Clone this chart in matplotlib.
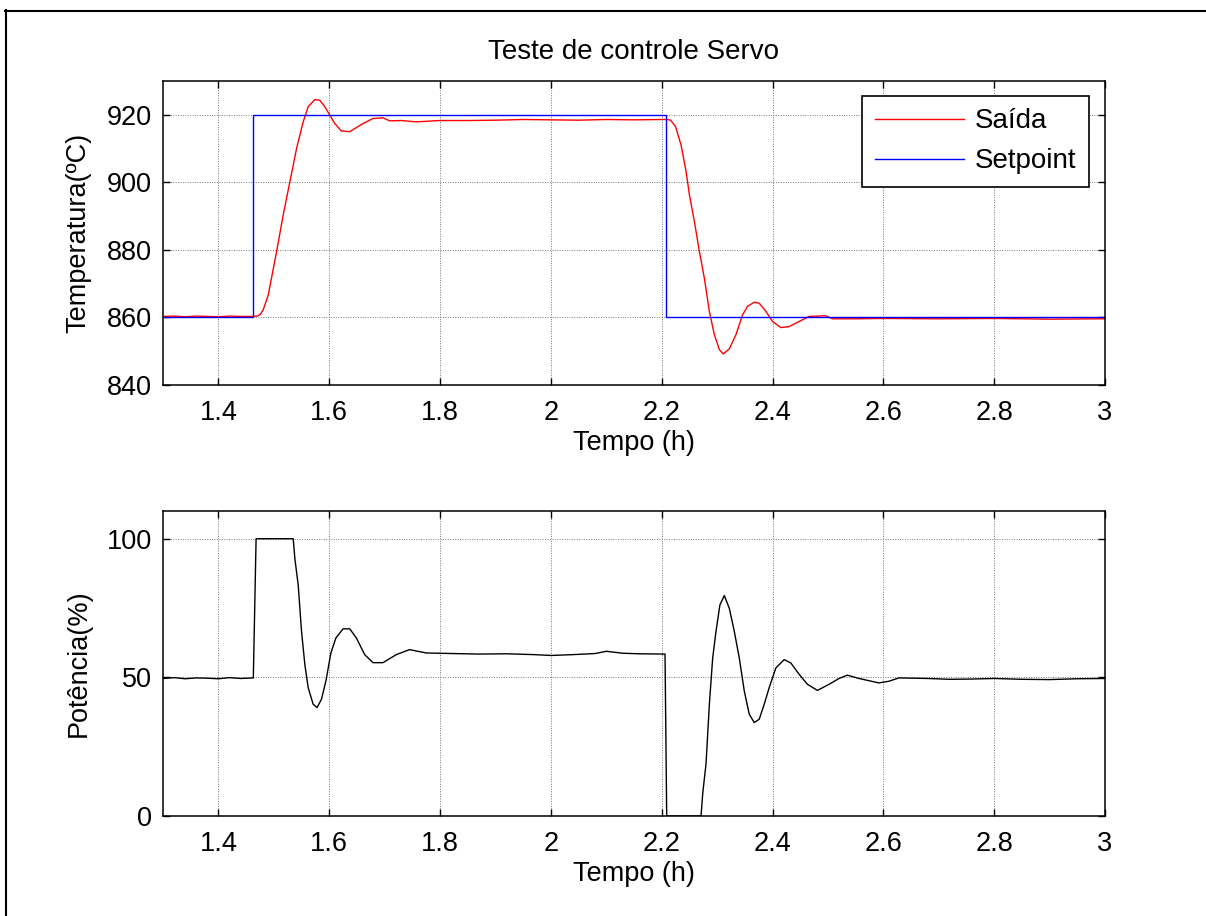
import numpy as np
import matplotlib
matplotlib.use('Agg')
import matplotlib.pyplot as plt
from matplotlib.lines import Line2D

plt.rcParams['font.family'] = ['Liberation Sans', 'DejaVu Sans']

# temperatura medida (Saida)
t_saida = [1.300, 1.320, 1.340, 1.360, 1.380, 1.400, 1.420, 1.440, 1.460, 1.470,
           1.475, 1.481, 1.490, 1.505, 1.517, 1.529, 1.541, 1.553, 1.562, 1.574,
           1.583, 1.592, 1.601, 1.610, 1.622, 1.637, 1.649, 1.661, 1.679, 1.697,
           1.709, 1.730, 1.757, 1.800, 1.850, 1.900, 1.950, 2.000, 2.050, 2.100,
           2.150, 2.200, 2.210, 2.216, 2.225, 2.235, 2.244, 2.250, 2.259, 2.268,
           2.277, 2.286, 2.295, 2.304, 2.311, 2.322, 2.334, 2.346, 2.355, 2.367,
           2.376, 2.388, 2.400, 2.415, 2.430, 2.448, 2.466, 2.496, 2.508, 2.550,
           2.600, 2.700, 2.800, 2.900, 3.000]
T_saida = [860.3, 860.4, 860.2, 860.4, 860.3, 860.2, 860.4, 860.3, 860.3, 860.4,
           860.8, 862.3, 866.7, 879.5, 890.4, 900.2, 910.0, 917.9, 922.4, 924.5,
           924.3, 922.4, 919.9, 917.4, 915.2, 915.0, 916.2, 917.4, 918.9, 919.1,
           918.2, 918.3, 917.9, 918.3, 918.3, 918.4, 918.6, 918.5, 918.4, 918.6,
           918.5, 918.6, 918.6, 918.4, 916.5, 911.0, 903.2, 896.3, 888.4, 879.5,
           871.6, 861.8, 854.9, 850.5, 849.2, 850.7, 854.9, 860.8, 863.3, 864.5,
           864.2, 861.8, 858.8, 857.0, 857.3, 858.8, 860.3, 860.5, 859.6, 859.6,
           859.7, 859.6, 859.7, 859.5, 859.6]

# setpoint
t_sp = [1.300, 1.462, 1.462, 2.207, 2.207, 3.000]
T_sp = [860, 860, 920, 920, 860, 860]

# potencia aplicada
t_pot = [1.300, 1.320, 1.340, 1.360, 1.380, 1.400, 1.420, 1.440, 1.463, 1.468,
         1.535, 1.538, 1.544, 1.550, 1.556, 1.562, 1.571, 1.578, 1.586, 1.594,
         1.603, 1.612, 1.625, 1.637, 1.649, 1.664, 1.679, 1.697, 1.721, 1.745,
         1.775, 1.820, 1.870, 1.920, 1.970, 2.000, 2.040, 2.080, 2.100, 2.130,
         2.160, 2.206, 2.209, 2.271, 2.274, 2.280, 2.286, 2.292, 2.298, 2.305,
         2.313, 2.322, 2.331, 2.340, 2.349, 2.358, 2.367, 2.376, 2.385, 2.394,
         2.406, 2.421, 2.433, 2.448, 2.463, 2.481, 2.502, 2.520, 2.535, 2.556,
         2.592, 2.610, 2.628, 2.680, 2.720, 2.760, 2.800, 2.850, 2.900, 2.950,
         3.000]
P_pot = [49.6, 49.9, 49.5, 49.8, 49.7, 49.5, 49.9, 49.6, 49.8, 100.0,
         100.0, 92.8, 83.3, 66.6, 54.6, 46.3, 40.3, 39.1, 42.1, 48.7,
         58.8, 64.2, 67.5, 67.5, 64.2, 58.2, 55.3, 55.3, 58.2, 60.0,
         58.8, 58.6, 58.4, 58.5, 58.2, 57.9, 58.2, 58.6, 59.4, 58.7,
         58.5, 58.4, 0.0, 0.0, 8.1, 18.9, 40.3, 57.0, 66.6, 76.1,
         79.5, 74.9, 66.6, 57.0, 45.1, 36.7, 33.7, 34.9, 40.3, 46.3,
         53.4, 56.4, 55.2, 51.1, 47.5, 45.3, 47.5, 49.6, 50.8, 49.6,
         48.0, 48.6, 49.8, 49.6, 49.3, 49.4, 49.6, 49.3, 49.2, 49.5,
         49.6]

xticks = [1.4, 1.6, 1.8, 2.0, 2.2, 2.4, 2.6, 2.8, 3.0]
xticklabels = ['1.4', '1.6', '1.8', '2', '2.2', '2.4', '2.6', '2.8', '3']

fig = plt.figure(figsize=(12.06, 9.16), dpi=100)
W, H = 1206, 916

ax1 = fig.add_axes([163 / W, 1 - 385 / H, 942 / W, 304 / H])
ax2 = fig.add_axes([163 / W, 1 - 816 / H, 942 / W, 305 / H])


def estilo(ax):
    ax.set_xlim(1.3, 3.0)
    ax.set_xticks(xticks)
    ax.set_xticklabels(xticklabels)
    ax.tick_params(direction='in', length=5, width=1, top=True, right=True,
                   labelsize=19.5)
    ax.tick_params(axis='x', pad=11)
    ax.tick_params(axis='y', pad=8)
    ax.grid(True, color='#777777', linestyle=(0, (1, 1.5)), linewidth=0.7)
    for s in ax.spines.values():
        s.set_linewidth(1.1)
    ax.set_xlabel('Tempo (h)', fontsize=19.5, labelpad=3)


ax1.plot(t_saida, T_saida, color='red', lw=1.0, label='Saída')
ax1.plot(t_sp, T_sp, color='blue', lw=1.0, label='Setpoint')
estilo(ax1)
ax1.set_ylim(840, 930)
ax1.set_yticks([840, 860, 880, 900, 920])
ax1.set_ylabel('Temperatura(ºC)', fontsize=19.5, labelpad=11)
ax1.set_title('Teste de controle Servo', fontsize=20, pad=16)
leg = ax1.legend(loc='upper right', bbox_to_anchor=(0.983, 0.951), fontsize=20,
                 handlelength=3.2, handletextpad=0.4, borderpad=0.45,
                 labelspacing=0.5, borderaxespad=0, fancybox=False, framealpha=1)
leg.get_frame().set_edgecolor('black')
leg.get_frame().set_linewidth(1.2)

ax2.plot(t_pot, P_pot, color='black', lw=1.0)
estilo(ax2)
ax2.set_ylim(0, 110)
ax2.set_yticks([0, 50, 100])
ax2.set_ylabel('Potência(%)', fontsize=19.5, labelpad=11)

# moldura externa
fig.add_artist(Line2D([5.5 / W, 5.5 / W], [0, 1 - 10 / H], color='black', lw=1.5))
fig.add_artist(Line2D([5 / W, 1], [1 - 10.5 / H, 1 - 10.5 / H], color='black', lw=1.5))

fig.savefig('out.png', dpi=100)
